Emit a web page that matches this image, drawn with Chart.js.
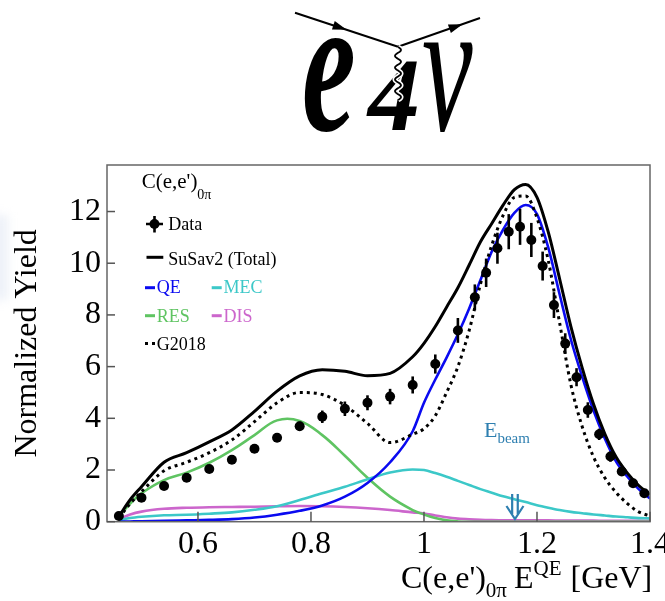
<!DOCTYPE html>
<html><head><meta charset="utf-8">
<script src="https://cdn.jsdelivr.net/npm/chart.js@4.4.1/dist/chart.umd.min.js"></script>
<style>html,body{margin:0;padding:0;background:#fff;} #wrap{position:relative;width:665px;height:601px;}</style>
</head><body>
<div id="wrap"><canvas id="c" width="665" height="601"></canvas></div>
<script>
// ---- data ----
const dataX = [0.46,0.50,0.54,0.58,0.62,0.66,0.70,0.74,0.78,0.82,0.86,0.90,0.94,0.98,1.02,1.06,1.09,1.11,1.13,1.15,1.17,1.19,1.21,1.23,1.25,1.27,1.29,1.31,1.33,1.35,1.37,1.39];
const dataY = [0.22,0.93,1.38,1.70,2.04,2.40,2.82,3.25,3.69,4.06,4.37,4.60,4.84,5.29,6.10,7.40,8.68,9.63,10.58,11.22,11.41,10.90,9.89,8.38,6.89,5.59,4.32,3.38,2.52,1.94,1.49,1.10];
const dataErr = [0.05,0.06,0.07,0.08,0.09,0.10,0.11,0.13,0.18,0.24,0.28,0.29,0.30,0.33,0.37,0.48,0.50,0.55,0.60,0.68,0.70,0.66,0.56,0.50,0.40,0.35,0.30,0.22,0.20,0.15,0.12,0.10];

const curveX = [0.46,0.48,0.50,0.54,0.58,0.62,0.66,0.70,0.74,0.78,0.82,0.86,0.90,0.94,0.98,1.00,1.02,1.04,1.06,1.08,1.10,1.12,1.14,1.16,1.18,1.20,1.22,1.24,1.26,1.28,1.30,1.32,1.34,1.36,1.38,1.40];
const totalY = [0.20,0.85,1.35,2.30,2.67,3.09,3.55,4.27,5.05,5.64,5.88,5.82,5.65,5.74,6.38,6.90,7.55,8.30,9.05,9.93,10.83,11.54,12.25,12.85,13.05,12.55,11.20,9.40,7.55,5.95,4.55,3.40,2.50,1.88,1.40,1.05];
const g2018Y = [0.15,0.70,1.16,1.97,2.30,2.67,3.16,3.87,4.60,5.00,4.92,4.50,3.80,3.06,3.38,3.60,4.10,5.00,6.00,7.40,9.20,10.70,11.85,12.55,12.60,11.75,10.10,7.70,5.30,3.68,2.51,1.70,1.13,0.70,0.38,0.22];
const qeY = [0.00,0.01,0.02,0.03,0.05,0.07,0.10,0.16,0.27,0.42,0.63,0.97,1.50,2.30,3.50,4.60,5.50,6.35,7.25,8.25,9.35,10.45,11.30,11.95,12.25,11.90,10.60,8.80,7.05,5.60,4.30,3.22,2.33,1.74,1.26,0.90];
const mecY = [0.05,0.14,0.19,0.25,0.27,0.31,0.36,0.46,0.60,0.84,1.10,1.35,1.64,1.90,2.02,2.00,1.88,1.74,1.58,1.42,1.26,1.12,0.98,0.87,0.76,0.64,0.54,0.45,0.38,0.33,0.28,0.24,0.20,0.17,0.14,0.13];
const resY = [0.20,0.70,1.10,1.61,1.90,2.28,2.77,3.35,3.92,3.90,3.35,2.55,1.70,0.97,0.45,0.28,0.14,0.05,0.01,0,0,0,0,0,0,0,0,0,0,0,0,0,0,0,0,0];
const disY = [0.10,0.28,0.39,0.50,0.54,0.56,0.57,0.58,0.60,0.61,0.60,0.57,0.52,0.45,0.36,0.32,0.24,0.17,0.12,0.09,0.07,0.06,0.055,0.05,0.05,0.05,0.05,0.045,0.04,0.04,0.04,0.035,0.035,0.03,0.03,0.03];

const xTickValues = [0.6,0.8,1.0,1.2,1.4];
const xTickLabels = ['0.6','0.8','1','1.2','1.4'];
const yTickValues = [0,2,4,6,8,10,12];
const yTickLabels = ['0','2','4','6','8','10','12'];
const beamEnergy = 1.161;

const SERIF = '"Liberation Serif", "Times New Roman", serif';
const COL = {qe:'#0a0af0', mec:'#3cc8c8', res:'#5fc462', dis:'#cc66cc', beam:'#2e7fb0'};

const pts = (xs, ys) => xs.map((x, i) => ({x: x, y: ys[i]}));

function rich(ctx, x, y, parts) {
  let cx = x;
  for (const p of parts) {
    ctx.font = (p.st || '') + ' ' + p.s + 'px ' + SERIF;
    if (p.c) ctx.fillStyle = p.c;
    ctx.fillText(p.t, cx, y + (p.dy || 0));
    cx += ctx.measureText(p.t).width + (p.gap || 0);
  }
  return cx;
}

function arrowHead(ctx, x, y, ang, len, w) {
  ctx.save(); ctx.translate(x, y); ctx.rotate(ang);
  ctx.beginPath(); ctx.moveTo(len/2, 0); ctx.lineTo(-len/2, -w); ctx.lineTo(-len/2, w); ctx.closePath(); ctx.fill();
  ctx.restore();
}

const decor = {
  id: 'decor',
  beforeDraw(chart) {
    const ctx = chart.ctx;
    ctx.save();
    ctx.fillStyle = '#fff'; ctx.fillRect(0, 0, chart.width, chart.height);
    // faint ghost at far left
    ctx.filter = 'blur(5px)';
    ctx.fillStyle = 'rgba(215,225,240,0.45)';
    ctx.fillRect(-6, 215, 14, 85);
    ctx.filter = 'none';
    ctx.restore();
  },
  afterDatasetsDraw(chart) {
    const {ctx, scales: {x, y}} = chart;
    ctx.save();
    ctx.strokeStyle = '#000'; ctx.lineWidth = 2.6;
    dataX.forEach((xv, i) => {
      const px = x.getPixelForValue(xv);
      ctx.beginPath();
      ctx.moveTo(px, y.getPixelForValue(dataY[i] - dataErr[i]));
      ctx.lineTo(px, y.getPixelForValue(dataY[i] + dataErr[i]));
      ctx.stroke();
    });
    ctx.restore();
  },
  afterDraw(chart) {
    const {ctx, chartArea: a, scales: {x, y}} = chart;
    ctx.save();
    // frame
    ctx.strokeStyle = '#666'; ctx.lineWidth = 1.5;
    ctx.strokeRect(a.left, a.top, a.right - a.left, a.bottom - a.top);
    // inward ticks
    ctx.strokeStyle = '#555'; ctx.lineWidth = 1.5;
    x.ticks.forEach(t => {
      const px = x.getPixelForValue(t.value);
      ctx.beginPath(); ctx.moveTo(px, a.bottom); ctx.lineTo(px, a.bottom - 10); ctx.stroke();
    });
    y.ticks.forEach(t => {
      const py = y.getPixelForValue(t.value);
      ctx.beginPath(); ctx.moveTo(a.left, py); ctx.lineTo(a.left + 8, py); ctx.stroke();
    });

    // x-axis title
    ctx.fillStyle = '#000'; ctx.textBaseline = 'alphabetic'; ctx.textAlign = 'left';
    rich(ctx, 401, 588, [
      {t: "C(e,e')", s: 32},
      {t: '0\u03c0', s: 21, dy: 9, gap: 7},
      {t: 'E', s: 32},
      {t: 'QE', s: 21, dy: -13, gap: 9},
      {t: '[GeV]', s: 32}
    ]);

    // legend
    rich(ctx, 141.7, 188, [{t: "C(e,e')", s: 21, c: '#000'}, {t: '0\u03c0', s: 14, dy: 11}]);
    ctx.strokeStyle = '#000'; ctx.lineWidth = 2.6;
    ctx.beginPath(); ctx.moveTo(146, 224); ctx.lineTo(163, 224); ctx.moveTo(154.5, 216); ctx.lineTo(154.5, 232.5); ctx.stroke();
    ctx.beginPath(); ctx.arc(154.5, 224, 5, 0, Math.PI * 2); ctx.fillStyle = '#000'; ctx.fill();
    rich(ctx, 168.3, 230, [{t: 'Data', s: 18, c: '#000'}]);
    ctx.lineWidth = 3;
    ctx.beginPath(); ctx.moveTo(146.5, 257.3); ctx.lineTo(163.3, 257.3); ctx.stroke();
    rich(ctx, 168.3, 265, [{t: 'SuSav2 (Total)', s: 18, c: '#000'}]);
    const seg = (x0, yy, col, dash) => {
      ctx.save(); ctx.strokeStyle = col; ctx.lineWidth = 3;
      if (dash) ctx.setLineDash(dash);
      ctx.beginPath(); ctx.moveTo(x0, yy); ctx.lineTo(x0 + 10, yy); ctx.stroke(); ctx.restore();
    };
    seg(145, 287.7, COL.qe); rich(ctx, 156.7, 293.3, [{t: 'QE', s: 18, c: COL.qe}]);
    seg(211.7, 287.7, COL.mec); rich(ctx, 223.5, 293.3, [{t: 'MEC', s: 18, c: COL.mec}]);
    seg(145, 315.7, COL.res); rich(ctx, 156.7, 321.7, [{t: 'RES', s: 18, c: COL.res}]);
    seg(211.7, 315.7, COL.dis); rich(ctx, 223.5, 321.7, [{t: 'DIS', s: 18, c: COL.dis}]);
    seg(145, 343.5, '#000', [3, 4]); rich(ctx, 156.7, 350, [{t: 'G2018', s: 18, c: '#000'}]);

    // E_beam label + arrow
    rich(ctx, 484, 437, [{t: 'E', s: 22, c: COL.beam}, {t: 'beam', s: 15, dy: 6}]);
    const bx = x.getPixelForValue(beamEnergy);
    ctx.strokeStyle = COL.beam; ctx.lineWidth = 2.2;
    ctx.beginPath();
    ctx.moveTo(bx - 2.8, 494); ctx.lineTo(bx - 2.8, 514);
    ctx.moveTo(bx + 2.8, 494); ctx.lineTo(bx + 2.8, 514);
    ctx.moveTo(bx - 8.5, 506); ctx.lineTo(bx, 519); ctx.lineTo(bx + 8.5, 506);
    ctx.stroke();

    // e4v logo
    ctx.fillStyle = '#000';
    ctx.font = 'italic bold 195px ' + SERIF;
    ctx.save(); ctx.translate(302, 130); ctx.scale(0.62, 1); ctx.fillText('e', 0, 0); ctx.restore();
    ctx.font = 'italic bold 104px ' + SERIF;
    ctx.fillText('4', 368, 130);
    ctx.font = 'italic 190px ' + SERIF;
    ctx.save(); ctx.translate(422, 130); ctx.scale(0.6, 1); ctx.fillText('\u03bd', 0, 0); ctx.restore();
    ctx.strokeStyle = '#000'; ctx.lineWidth = 2;
    ctx.beginPath(); ctx.moveTo(295, 12.7); ctx.lineTo(398, 46.7); ctx.stroke();
    ctx.beginPath(); ctx.moveTo(398, 46.7); ctx.lineTo(480, 18); ctx.stroke();
    arrowHead(ctx, 340, 27.5, Math.atan2(34, 103), 14, 4.5);
    arrowHead(ctx, 456, 26.5, Math.atan2(-28.7, 82), 14, 4.5);
    const wavy = (col, lw) => {
      ctx.strokeStyle = col; ctx.lineWidth = lw; ctx.beginPath();
      for (let i = 0; i <= 100; i++) {
        const t = i / 100, yy = 47 + t * 53, xx = 398 + 3 * Math.sin(t * Math.PI * 2 * 4.5);
        if (i === 0) ctx.moveTo(xx, yy); else ctx.lineTo(xx, yy);
      }
      ctx.stroke();
    };
    wavy('#fff', 5); wavy('#000', 1.8);
    ctx.restore();
  }
};

const lineDs = (label, ys, color, width, order, dash, mode) => ({
  type: 'line', label: label, data: pts(curveX, ys), borderColor: color, borderWidth: width,
  borderDash: dash || [], borderCapStyle: 'butt', pointRadius: 0, fill: false,
  tension: 0.4, cubicInterpolationMode: mode || 'monotone', order: order
});

new Chart(document.getElementById('c'), {
  type: 'line',
  data: {
    datasets: [
      {type: 'line', label: 'Data', data: pts(dataX, dataY), showLine: false, pointRadius: 5,
       pointBackgroundColor: '#000', pointBorderWidth: 0, order: 0},
      lineDs('G2018', g2018Y, '#000', 3, 1, [3, 4]),
      lineDs('SuSav2 (Total)', totalY, '#000', 3, 2),
      lineDs('QE', qeY, COL.qe, 2.6, 3),
      lineDs('MEC', mecY, COL.mec, 2.6, 4),
      lineDs('RES', resY, COL.res, 2.6, 5, null, 'default'),
      lineDs('DIS', disY, COL.dis, 2.6, 6)
    ]
  },
  options: {
    responsive: false, animation: false, events: [], devicePixelRatio: 1,
    layout: {padding: {top: 165, right: 15, bottom: 0, left: 0}},
    plugins: {legend: {display: false}, tooltip: {enabled: false}},
    scales: {
      x: {
        type: 'linear', min: 0.439, max: 1.4,
        afterBuildTicks: s => { s.ticks = xTickValues.map(v => ({value: v})); },
        afterFit: s => { s.height = 79.3; s.paddingLeft = 0; s.paddingRight = 0; },
        ticks: {callback: (v, i) => xTickLabels[i], autoSkip: false, maxRotation: 0, padding: 4,
                color: '#000', font: {family: SERIF, size: 32}},
        grid: {display: false, drawTicks: false}, border: {display: false}
      },
      y: {
        type: 'linear', min: 0, max: 13.8,
        afterBuildTicks: s => { s.ticks = yTickValues.map(v => ({value: v})); },
        afterFit: s => { s.width = 107; s.paddingTop = 0; s.paddingBottom = 0; },
        ticks: {callback: (v, i) => yTickLabels[i], autoSkip: false, padding: 6,
                color: '#000', font: {family: SERIF, size: 32}},
        grid: {display: false, drawTicks: false}, border: {display: false},
        title: {display: true, text: 'Normalized Yield', color: '#000',
                font: {family: SERIF, size: 32}, padding: {top: 8, bottom: 0}}
      }
    }
  },
  plugins: [decor]
});
</script>
</body></html>
